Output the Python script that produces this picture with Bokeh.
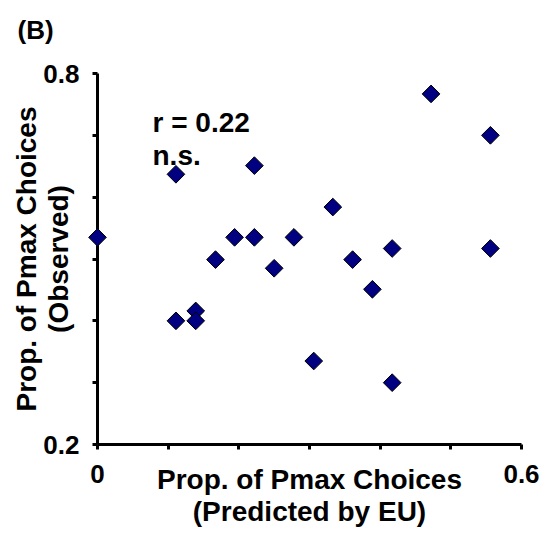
import numpy as np
from bokeh.plotting import figure
from bokeh.models import Range1d, FixedTicker, Label
from bokeh.embed import file_html
from bokeh.resources import INLINE

# Proportion of Pmax choices: EU prediction vs. observed, one point per participant
predicted = [0.000, 0.111, 0.222, 0.472, 0.556, 0.333, 0.194, 0.222, 0.278, 0.417,
             0.556, 0.167, 0.250, 0.361, 0.389, 0.139, 0.111, 0.139, 0.306, 0.417]
observed = [0.535, 0.637, 0.651, 0.767, 0.700, 0.584, 0.535, 0.535, 0.535, 0.517,
            0.517, 0.499, 0.485, 0.499, 0.451, 0.416, 0.400, 0.400, 0.335, 0.300]

x_ticks = [0.0, 0.1, 0.2, 0.3, 0.4, 0.5, 0.6]
x_tick_labels = ["0", "", "", "", "", "", "0.6"]
y_ticks = [0.2, 0.3, 0.4, 0.5, 0.6, 0.7, 0.8]
y_tick_labels = ["0.2", "", "", "", "", "", "0.8"]

panel_tag = "(B)"
stat_lines = ["r = 0.22", "n.s."]
x_title = "Prop. of Pmax Choices\n(Predicted by EU)"
y_title = "Prop. of Pmax Choices\n(Observed)"

FONT = "Liberation Sans"
W, H = 548, 540
# pixel positions of the axis lines
ax_left, ax_right, ax_top, ax_bottom = 97, 521, 73, 444
x_lo, x_hi, y_lo, y_hi = 0.0, 0.6, 0.2, 0.8

p = figure(width=W, height=H,
           x_range=Range1d(x_lo, x_hi),
           y_range=Range1d(y_lo, y_hi),
           min_border_left=ax_left, min_border_right=W - ax_right,
           min_border_top=ax_top, min_border_bottom=H - ax_bottom,
           output_backend="svg", toolbar_location=None, tools="")
p.grid.visible = False
p.outline_line_color = None
p.background_fill_color = "white"
p.border_fill_color = "white"

# panel tag in the top-left corner; the blank second line lifts it off the frame
p.title.text = panel_tag + "\n "
p.title.align = "left"
p.title.offset = -80
p.title.standoff = 10
p.title.text_line_height = 0.8
p.title.text_font = FONT
p.title.text_font_style = "bold"
p.title.text_font_size = "26px"
p.title.text_color = "black"


def style_axis(ax, ticks, labels, title):
    ax.ticker = FixedTicker(ticks=ticks)
    ax.major_label_overrides = dict(zip(ticks, labels))
    ax.axis_line_width = 3
    ax.axis_line_color = "black"
    ax.major_tick_line_width = 3
    ax.major_tick_line_color = "black"
    ax.major_tick_out = 5
    ax.major_tick_in = 0
    ax.minor_tick_out = 0
    ax.minor_tick_in = 0
    ax.major_label_text_font = FONT
    ax.major_label_text_font_style = "bold"
    ax.major_label_text_font_size = "26px"
    ax.major_label_text_color = "black"
    ax.axis_label = title
    ax.axis_label_text_font = FONT
    ax.axis_label_text_font_style = "bold"
    ax.axis_label_text_font_size = "28px"
    ax.axis_label_text_color = "black"
    ax.axis_label_text_line_height = 1.05


xa = p.xaxis[0]
style_axis(xa, x_ticks, x_tick_labels, x_title)
xa.major_label_standoff = 15
xa.axis_label_standoff = -22

ya = p.yaxis[0]
style_axis(ya, y_ticks, y_tick_labels, y_title)
ya.major_label_standoff = 13
ya.axis_label_standoff = -34

p.scatter(predicted, observed, marker="square", angle=np.pi / 4, size=12.5,
          fill_color="#000080", line_color="black", line_width=1, level="overlay")


def add_text(text, px, py, size):
    p.add_layout(Label(x=px, y=py, x_units="canvas", y_units="canvas",
                       text=text, text_font=FONT, text_font_style="bold",
                       text_font_size=size, text_color="black",
                       text_align="left", text_baseline="alphabetic"))


add_text(stat_lines[0], 152, 122, "28px")
add_text(stat_lines[1], 152, 155, "28px")

open("out.html", "w").write(file_html(p, INLINE))
